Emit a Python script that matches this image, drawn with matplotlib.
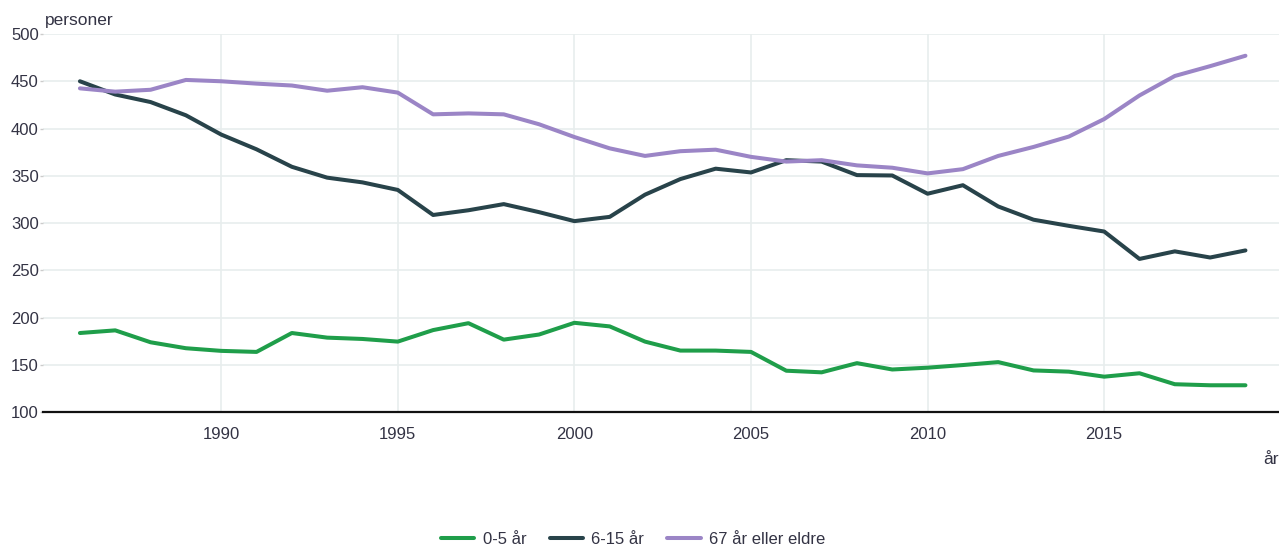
import matplotlib.pyplot as plt

years = list(range(1986, 2020))

age_0_5 = [183.6, 186.4, 173.8, 167.5, 164.7, 163.6, 183.6, 178.7, 177.3, 174.5,
           186.7, 194.0, 176.6, 182.0, 194.4, 190.6, 174.5, 165.0, 165.0, 163.6,
           143.7, 142.0, 151.7, 145.0, 146.9, 149.7, 152.8, 144.0, 142.7, 137.4,
           141.0, 129.4, 128.3, 128.3]

age_6_15 = [450.0, 436.0, 428.0, 414.0, 393.6, 378.0, 359.5, 348.0, 343.0, 335.0,
            308.5, 313.5, 320.0, 311.5, 302.0, 306.5, 330.0, 346.5, 357.5, 353.5,
            366.5, 365.0, 350.7, 350.3, 331.0, 340.0, 317.5, 303.5, 297.0, 291.0,
            262.0, 270.0, 263.5, 271.0]

age_67_plus = [442.5, 439.0, 441.0, 451.4, 450.0, 447.5, 445.5, 440.0, 443.7, 438.0,
               415.0, 416.0, 415.0, 404.5, 391.0, 379.0, 371.0, 376.0, 377.6, 370.0,
               365.0, 366.5, 361.0, 358.5, 352.5, 357.0, 371.0, 380.5, 391.5, 410.0,
               435.0, 455.6, 466.0, 477.0]

series = [
    ("0-5 år", age_0_5, "#1f9e4a"),
    ("6-15 år", age_6_15, "#28434a"),
    ("67 år eller eldre", age_67_plus, "#9b85c6"),
]

x_ticks = [1990, 1995, 2000, 2005, 2010, 2015]
y_ticks = [100, 150, 200, 250, 300, 350, 400, 450, 500]

plt.rcParams["font.family"] = ["Liberation Sans", "DejaVu Sans"]
text_color = "#333344"

fig = plt.figure(figsize=(12.79, 5.46), dpi=100)
ax = fig.add_axes([0.0335, 0.2454, 0.9665, 0.6923])

for label, values, color in series:
    ax.plot(years, values, color=color, linewidth=2.9, label=label,
            solid_capstyle="round", solid_joinstyle="round")

ax.set_xlim(1984.95, 2019.95)
ax.set_ylim(100, 500)
ax.set_xticks(x_ticks)
ax.set_yticks(y_ticks)
ax.grid(True, color="#e8eded", linewidth=1.2)
ax.set_axisbelow(True)

for side in ("top", "right", "left"):
    ax.spines[side].set_visible(False)
ax.spines["bottom"].set_color("#111111")
ax.spines["bottom"].set_linewidth(1.6)

ax.tick_params(axis="x", length=0, pad=11, labelsize=12, labelcolor=text_color)
ax.tick_params(axis="y", length=2, width=1, color="#cccccc", pad=1,
               labelsize=12, labelcolor=text_color)

fig.text(45 / 1279, 1 - 20 / 546, "personer", fontsize=12.5, color=text_color,
         ha="left", va="center")
fig.text(1279 / 1279, 1 - 460 / 546, "år", fontsize=12.5, color=text_color,
         ha="right", va="center")

# legend text centred near y=538 px, kept inside the figure
fig.text(0.5, 0.0, "", fontsize=1)
fig.legend(loc="center", bbox_to_anchor=(0.495, 1 - 539 / 546), ncol=3,
           frameon=False, handlelength=2.0, columnspacing=1.4, handletextpad=0.5,
           fontsize=12, labelcolor=text_color, borderpad=0.0)

fig.savefig("out.png", dpi=100)
